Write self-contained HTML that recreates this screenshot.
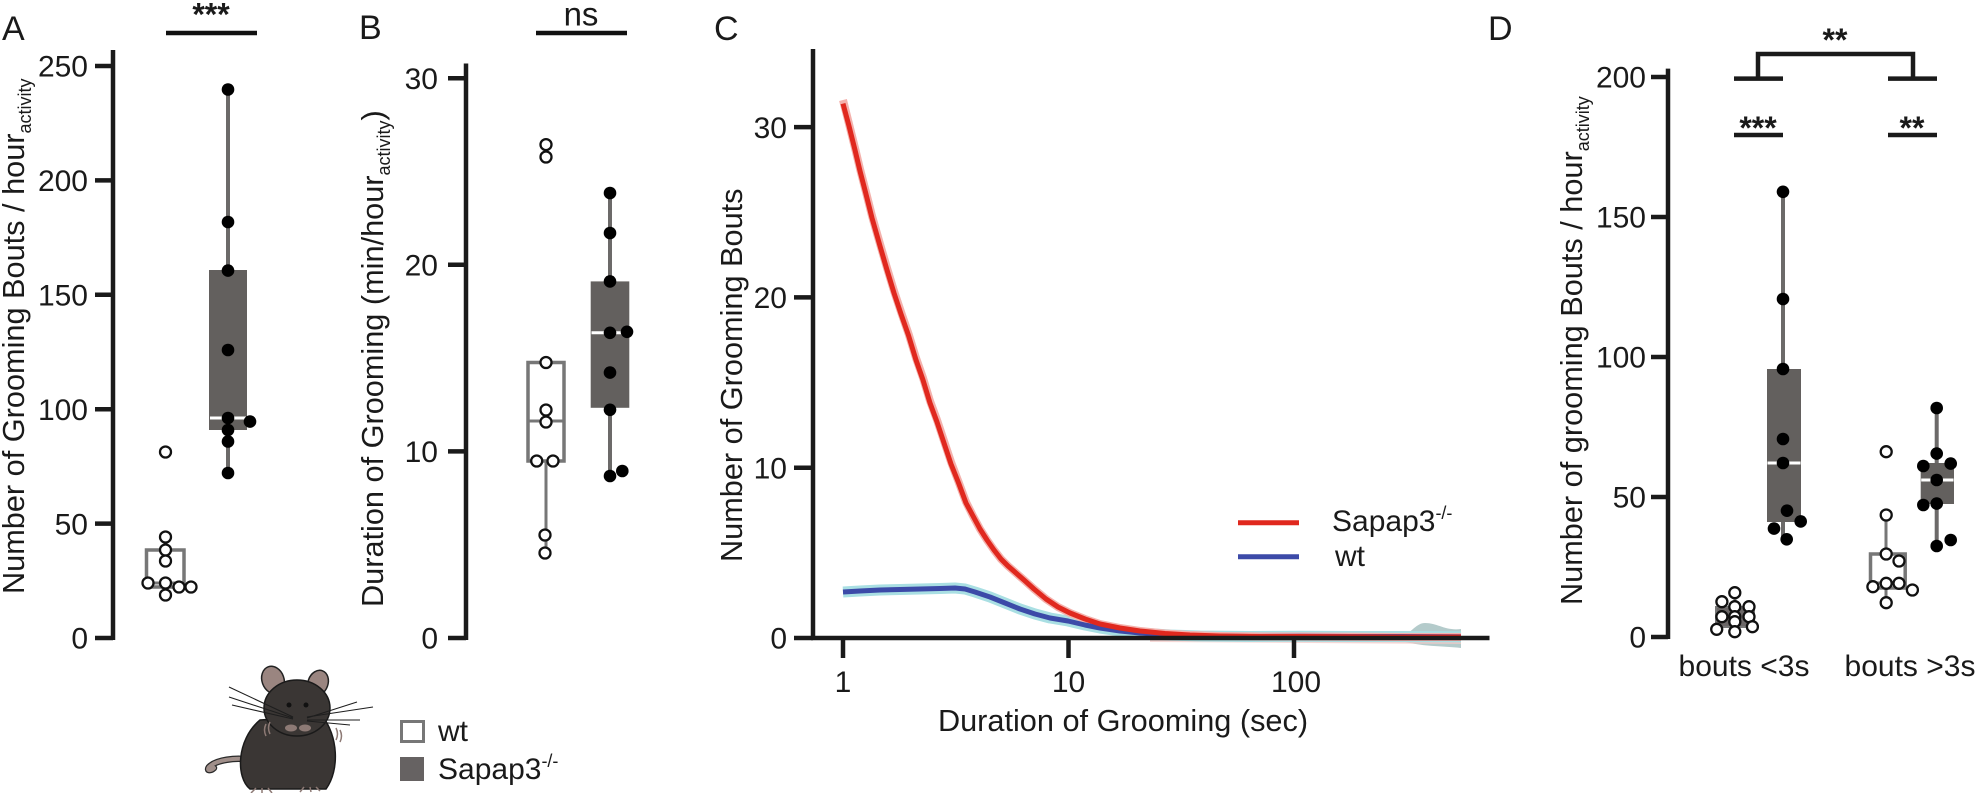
<!DOCTYPE html>
<html><head><meta charset="utf-8"><style>
html,body{margin:0;padding:0;background:#fff;}
svg{display:block;}
text{font-family:"Liberation Sans",Arial,sans-serif;fill:#1a1a1a;}
</style></head><body>
<svg width="1975" height="793" viewBox="0 0 1975 793" xmlns="http://www.w3.org/2000/svg">
<rect width="1975" height="793" fill="#fff"/>

<!-- ================= PANEL A ================= -->
<text x="2" y="40" font-size="34">A</text>
<line x1="166" y1="33" x2="257" y2="33" stroke="#111" stroke-width="4.5"/>
<text x="211" y="25.5" font-size="32" font-weight="bold" text-anchor="middle">***</text>
<g stroke="#1a1a1a" stroke-width="4.5">
<line x1="113" y1="50" x2="113" y2="640"/>
<line x1="95" y1="638" x2="113" y2="638"/>
<line x1="95" y1="523.6" x2="113" y2="523.6"/>
<line x1="95" y1="409.2" x2="113" y2="409.2"/>
<line x1="95" y1="294.8" x2="113" y2="294.8"/>
<line x1="95" y1="180.4" x2="113" y2="180.4"/>
<line x1="95" y1="66" x2="113" y2="66"/>
</g>
<g font-size="30" text-anchor="end">
<text x="88" y="648.7">0</text>
<text x="88" y="534.3">50</text>
<text x="88" y="419.9">100</text>
<text x="88" y="305.5">150</text>
<text x="88" y="191.1">200</text>
<text x="88" y="76.7">250</text>
</g>
<text transform="translate(24,594) rotate(-90)" font-size="30.7">Number of Grooming Bouts / hour<tspan font-size="18" dy="7">activity</tspan></text>
<!-- wt box A -->
<line x1="165" y1="587" x2="165" y2="595" stroke="#777" stroke-width="3"/>
<rect x="146.5" y="550" width="37.5" height="37" fill="#fff" stroke="#777" stroke-width="3.5"/>
<line x1="146.5" y1="583" x2="184" y2="583" stroke="#777" stroke-width="3"/>
<g fill="#fff" stroke="#111" stroke-width="2.3">
<circle cx="165.5" cy="452" r="5.5"/>
<circle cx="165.5" cy="537" r="5.5"/>
<circle cx="165.5" cy="550" r="5.5"/>
<circle cx="165.5" cy="561" r="5.5"/>
<circle cx="165.5" cy="583" r="5.5"/>
<circle cx="165.5" cy="595" r="5.5"/>
<circle cx="148" cy="583" r="5.5"/>
<circle cx="179" cy="587" r="5.5"/>
<circle cx="191" cy="587" r="5.5"/>
</g>
<!-- Sapap box A -->
<line x1="228" y1="89.5" x2="228" y2="473" stroke="#6c6a69" stroke-width="4"/>
<rect x="209" y="270" width="38" height="160" fill="#63605e"/>
<line x1="210" y1="418" x2="246" y2="418" stroke="#fff" stroke-width="3"/>
<g fill="#000">
<circle cx="228" cy="89.5" r="6.3"/>
<circle cx="228" cy="222" r="6.3"/>
<circle cx="228" cy="270.6" r="6.3"/>
<circle cx="228" cy="350" r="6.3"/>
<circle cx="228" cy="418" r="6.3"/>
<circle cx="228" cy="430" r="6.3"/>
<circle cx="228" cy="441.5" r="6.3"/>
<circle cx="228" cy="473" r="6.3"/>
<circle cx="250" cy="421.6" r="6.3"/>
</g>

<!-- ================= PANEL B ================= -->
<text x="359" y="39" font-size="34">B</text>
<line x1="536" y1="33" x2="627" y2="33" stroke="#111" stroke-width="4.5"/>
<text x="581" y="25.5" font-size="33" text-anchor="middle">ns</text>
<g stroke="#1a1a1a" stroke-width="4.5">
<line x1="466" y1="63.5" x2="466" y2="640"/>
<line x1="448" y1="638" x2="466" y2="638"/>
<line x1="448" y1="451.4" x2="466" y2="451.4"/>
<line x1="448" y1="264.8" x2="466" y2="264.8"/>
<line x1="448" y1="78.2" x2="466" y2="78.2"/>
</g>
<g font-size="30" text-anchor="end">
<text x="438" y="648.7">0</text>
<text x="438" y="462.1">10</text>
<text x="438" y="275.5">20</text>
<text x="438" y="88.9">30</text>
</g>
<text transform="translate(383,607) rotate(-90)" font-size="30.7">Duration of Grooming (min/hour<tspan font-size="18" dy="7">activity</tspan><tspan dy="-7">)</tspan></text>
<!-- wt box B -->
<line x1="546" y1="461" x2="546" y2="553" stroke="#777" stroke-width="3"/>
<rect x="528" y="362.5" width="36" height="98.5" fill="#fff" stroke="#777" stroke-width="3.5"/>
<line x1="528" y1="421" x2="564" y2="421" stroke="#777" stroke-width="3"/>
<g fill="#fff" stroke="#111" stroke-width="2.3">
<circle cx="546" cy="144.6" r="5.5"/>
<circle cx="546" cy="157" r="5.5"/>
<circle cx="546" cy="362.5" r="5.5"/>
<circle cx="546" cy="410" r="5.5"/>
<circle cx="546" cy="422" r="5.5"/>
<circle cx="536.7" cy="461" r="5.5"/>
<circle cx="553" cy="461" r="5.5"/>
<circle cx="545" cy="535" r="5.5"/>
<circle cx="545" cy="553" r="5.5"/>
</g>
<!-- Sapap box B -->
<line x1="610" y1="193" x2="610" y2="476" stroke="#6c6a69" stroke-width="4"/>
<rect x="590.7" y="281.4" width="38.6" height="126.4" fill="#63605e"/>
<line x1="591.5" y1="332.8" x2="628.5" y2="332.8" stroke="#fff" stroke-width="3"/>
<g fill="#000">
<circle cx="610" cy="193" r="6.3"/>
<circle cx="610" cy="233" r="6.3"/>
<circle cx="610" cy="281.4" r="6.3"/>
<circle cx="610" cy="332.8" r="6.3"/>
<circle cx="627" cy="331.8" r="6.3"/>
<circle cx="610" cy="372.6" r="6.3"/>
<circle cx="610" cy="409.8" r="6.3"/>
<circle cx="610" cy="476" r="6.3"/>
<circle cx="622.3" cy="471" r="6.3"/>
</g>

<!-- ================= PANEL C ================= -->
<text x="714" y="40" font-size="34">C</text>
<!-- bands -->
<path d="M1150,633 L1461,632 L1461,643 L1150,641 Z" fill="#dde8e9"/>
<path d="M1398,637 C1410,636 1415,623 1425,623 C1438,623 1445,631 1461,629 L1461,648 C1445,646 1420,647 1398,640 Z" fill="#b4cbcb"/>
<path d="M1150,640 L1461,641 L1461,644 L1150,642 Z" fill="#f3c9c6" opacity="0.7"/>
<polyline fill="none" stroke="#a9dfe3" stroke-width="11" stroke-linejoin="round" stroke-linecap="butt" points="843,592 860,591 880,590 900,589.5 920,589 940,588.5 955,588 965,589 975,592 990,597 1005,603 1020,609 1035,614 1050,618 1068,621 1085,625 1100,628 1120,631 1140,633 1170,635 1200,636 1250,636.5 1300,636.2 1350,636.5 1400,636.5 1461,636.8"/>
<polyline fill="none" stroke="#f4b1ac" stroke-width="8" stroke-linejoin="round" points="843,100 849,124 855,148 860,169 865.7,191 872,216 880,244 887,268 894,291 901,312 908.6,334 916,358 923,378 930,401 937,420 944,441 951,462 958.6,482 966,502 973,516 980,529 987,540 994,550 1001,559 1008,566 1016,573 1024,580 1034,589 1046,599 1058,607 1070,613 1085,619 1100,624 1120,628 1140,631 1165,633.5 1190,635 1220,636 1260,636.5 1300,636.5 1350,636.8 1400,637 1461,637"/>
<polyline fill="none" stroke="#3c4aa8" stroke-width="5" stroke-linejoin="round" points="843,592 860,591 880,590 900,589.5 920,589 940,588.5 955,588 965,589 975,592 990,597 1005,603 1020,609 1035,614 1050,618 1068,621 1085,625 1100,628 1120,631 1140,633 1170,635 1200,636 1250,636.5 1300,636.2 1350,636.5 1400,636.5 1461,636.8"/>
<polyline fill="none" stroke="#e0281e" stroke-width="5" stroke-linejoin="round" points="843,103.6 849,126 855,150 860,171 865.7,193 872,218 880,246 887,270 894,293 901,314 908.6,335.7 916,360 923,380 930,403 937,422 944,443 951,464 958.6,483 966,503 973,516 980,529 987,540 994,550 1001,559 1008,566 1016,573 1024,580 1034,589 1046,599 1058,607 1070,613 1085,619 1100,624 1120,628 1140,631 1165,633.5 1190,635 1220,636 1260,636.5 1300,636.5 1350,636.8 1400,637 1461,637"/>
<g stroke="#1a1a1a" stroke-width="4.5">
<line x1="813" y1="49" x2="813" y2="640"/>
<line x1="811" y1="638" x2="1489.5" y2="638"/>
<line x1="794" y1="638" x2="813" y2="638"/>
<line x1="794" y1="467.7" x2="813" y2="467.7"/>
<line x1="794" y1="297.4" x2="813" y2="297.4"/>
<line x1="794" y1="127.1" x2="813" y2="127.1"/>
<line x1="843" y1="638" x2="843" y2="658"/>
<line x1="1068.5" y1="638" x2="1068.5" y2="658"/>
<line x1="1294" y1="638" x2="1294" y2="658"/>
</g>
<g font-size="30" text-anchor="end">
<text x="787" y="648.7">0</text>
<text x="787" y="478.4">10</text>
<text x="787" y="308.1">20</text>
<text x="787" y="137.8">30</text>
</g>
<g font-size="30" text-anchor="middle">
<text x="843" y="692">1</text>
<text x="1068.5" y="692">10</text>
<text x="1296" y="692">100</text>
</g>
<text x="1123" y="731" font-size="30.7" text-anchor="middle">Duration of Grooming (sec)</text>
<text transform="translate(742,562) rotate(-90)" font-size="30.7">Number of Grooming Bouts</text>
<!-- legend C -->
<line x1="1238" y1="522.7" x2="1299" y2="522.7" stroke="#e0281e" stroke-width="5"/>
<line x1="1238" y1="556.7" x2="1299" y2="556.7" stroke="#3c4aa8" stroke-width="5"/>
<text x="1332" y="531" font-size="30">Sapap3<tspan font-size="18" dy="-12">-/-</tspan></text>
<text x="1335" y="566" font-size="30">wt</text>

<!-- ================= PANEL D ================= -->
<text x="1488" y="40" font-size="34">D</text>
<g stroke="#1a1a1a" stroke-width="4.5" fill="none">
<path d="M1734,78.6 H1783 M1758,78.6 V54 H1913 V78.6 M1888,78.6 H1937"/>
<path d="M1734,135 H1783 M1888,135 H1937"/>
<line x1="1668" y1="68.6" x2="1668" y2="639"/>
<line x1="1651" y1="637" x2="1668" y2="637"/>
<line x1="1651" y1="497" x2="1668" y2="497"/>
<line x1="1651" y1="357" x2="1668" y2="357"/>
<line x1="1651" y1="217" x2="1668" y2="217"/>
<line x1="1651" y1="77" x2="1668" y2="77"/>
</g>
<text x="1835" y="51" font-size="32" font-weight="bold" text-anchor="middle">**</text>
<text x="1758" y="139" font-size="32" font-weight="bold" text-anchor="middle">***</text>
<text x="1912" y="139" font-size="32" font-weight="bold" text-anchor="middle">**</text>
<g font-size="30" text-anchor="end">
<text x="1646" y="647.7">0</text>
<text x="1646" y="507.7">50</text>
<text x="1646" y="367.7">100</text>
<text x="1646" y="227.7">150</text>
<text x="1646" y="87.7">200</text>
</g>
<text transform="translate(1582,605) rotate(-90)" font-size="30.7">Number of grooming Bouts / hour<tspan font-size="18" dy="7">activity</tspan></text>
<!-- Sapap <3s -->
<line x1="1783" y1="191.8" x2="1783" y2="539" stroke="#6c6a69" stroke-width="4"/>
<rect x="1767" y="369" width="34" height="153" fill="#63605e"/>
<line x1="1767.5" y1="463" x2="1800.5" y2="463" stroke="#fff" stroke-width="3"/>
<g fill="#000">
<circle cx="1783" cy="191.8" r="6.3"/>
<circle cx="1783" cy="299" r="6.3"/>
<circle cx="1783" cy="369" r="6.3"/>
<circle cx="1783" cy="439" r="6.3"/>
<circle cx="1783" cy="463" r="6.3"/>
<circle cx="1787" cy="510.7" r="6.3"/>
<circle cx="1800.7" cy="521.4" r="6.3"/>
<circle cx="1774" cy="528.6" r="6.3"/>
<circle cx="1786.7" cy="539.3" r="6.3"/>
</g>
<!-- wt <3s -->
<line x1="1735" y1="592.7" x2="1735" y2="631.7" stroke="#777" stroke-width="3"/>
<rect x="1716" y="607" width="38" height="20" fill="#6b6767" stroke="#777" stroke-width="2"/>
<g fill="#fff" stroke="#111" stroke-width="2.3">
<circle cx="1734.8" cy="592.7" r="5.5"/>
<circle cx="1721.9" cy="601.7" r="5.5"/>
<circle cx="1734.8" cy="606.7" r="5.5"/>
<circle cx="1749" cy="606.7" r="5.5"/>
<circle cx="1721.9" cy="616.7" r="5.5"/>
<circle cx="1734.8" cy="616.7" r="5.5"/>
<circle cx="1749" cy="616.7" r="5.5"/>
<circle cx="1734.8" cy="621.7" r="5.5"/>
<circle cx="1716.7" cy="629.3" r="5.5"/>
<circle cx="1734.8" cy="631.7" r="5.5"/>
<circle cx="1752.4" cy="626.7" r="5.5"/>
</g>
<!-- wt >3s -->
<line x1="1886" y1="515" x2="1886" y2="603" stroke="#777" stroke-width="3"/>
<rect x="1870.5" y="554" width="34.7" height="34" fill="#fff" stroke="#777" stroke-width="3.5"/>
<line x1="1870.5" y1="583" x2="1905.2" y2="583" stroke="#777" stroke-width="3"/>
<g fill="#fff" stroke="#111" stroke-width="2.3">
<circle cx="1886.2" cy="451.7" r="5.5"/>
<circle cx="1886.2" cy="515" r="5.5"/>
<circle cx="1886.2" cy="554" r="5.5"/>
<circle cx="1899" cy="561" r="5.5"/>
<circle cx="1872.9" cy="586.7" r="5.5"/>
<circle cx="1886.2" cy="583.3" r="5.5"/>
<circle cx="1899" cy="583.3" r="5.5"/>
<circle cx="1912.4" cy="590" r="5.5"/>
<circle cx="1886.2" cy="602.7" r="5.5"/>
</g>
<!-- Sapap >3s -->
<line x1="1936.7" y1="408" x2="1936.7" y2="546" stroke="#6c6a69" stroke-width="4"/>
<rect x="1920.7" y="463" width="33.3" height="41" fill="#63605e"/>
<line x1="1921.2" y1="480" x2="1953.5" y2="480" stroke="#fff" stroke-width="3"/>
<g fill="#000">
<circle cx="1936.7" cy="408" r="6.3"/>
<circle cx="1936.7" cy="453.6" r="6.3"/>
<circle cx="1923.3" cy="466" r="6.3"/>
<circle cx="1950.7" cy="463.6" r="6.3"/>
<circle cx="1936.7" cy="480" r="6.3"/>
<circle cx="1923.3" cy="505" r="6.3"/>
<circle cx="1936.7" cy="503.6" r="6.3"/>
<circle cx="1936.7" cy="546" r="6.3"/>
<circle cx="1950.7" cy="540" r="6.3"/>
</g>
<text x="1744" y="676" font-size="30" text-anchor="middle">bouts &lt;3s</text>
<text x="1910" y="676" font-size="30" text-anchor="middle">bouts &gt;3s</text>

<!-- ================= MOUSE ================= -->
<g>
<path d="M252,760 C235,757 216,760 209,767 C206,771 211,771 214,768" fill="none" stroke="#2a2a2a" stroke-width="6.5" stroke-linecap="round"/>
<path d="M252,760 C235,757 216,760 209,767 C206,771 211,771 214,768" fill="none" stroke="#a08f8a" stroke-width="4" stroke-linecap="round"/>
<ellipse cx="273" cy="680" rx="11" ry="14" transform="rotate(-20 273 680)" fill="#9a8580" stroke="#222" stroke-width="1.5"/>
<ellipse cx="318" cy="683" rx="10" ry="13" transform="rotate(20 318 683)" fill="#9a8580" stroke="#222" stroke-width="1.5"/>
<path d="M260,720 C236,740 236,778 250,789 L326,789 C340,770 338,735 322,716 Z" fill="#3a3634" stroke="#1a1a1a" stroke-width="1.5"/>
<ellipse cx="297" cy="708" rx="33" ry="28" fill="#3a3634" stroke="#1a1a1a" stroke-width="1.5"/>
<circle cx="289" cy="705" r="2.5" fill="#111"/>
<circle cx="306" cy="705" r="2.5" fill="#111"/>
<ellipse cx="291" cy="728" rx="6" ry="3.5" fill="#8d7a75"/>
<ellipse cx="305" cy="728" rx="6" ry="3.5" fill="#8d7a75"/>
<g stroke="#1e1e1e" stroke-width="1.1" fill="none">
<path d="M293,717 L229,687"/><path d="M293,718 L229,697"/><path d="M293,719 L232,705"/>
<path d="M307,717 L373,707"/><path d="M307,718 L357,702"/><path d="M307,720 L360,720"/><path d="M307,721 L350,725"/>
</g>
<g stroke="#8d7a75" stroke-width="1.5" fill="none">
<path d="M256,788 L251,793 M262,788 L262,793 M268,788 L272,793"/>
<path d="M304,787 L300,792 M310,787 L311,792 M316,787 L320,791"/>
<path d="M266,724 q-3,6 0,12 M270,722 q-3,6 0,12"/>
<path d="M336,728 q3,6 0,12 M340,730 q3,6 0,12"/>
</g>
</g>

<!-- legend bottom -->
<rect x="401.5" y="721.5" width="22" height="20" fill="#fff" stroke="#777" stroke-width="3"/>
<text x="438" y="741" font-size="30">wt</text>
<rect x="400" y="757" width="24" height="24" fill="#666262"/>
<text x="438" y="779" font-size="30">Sapap3<tspan font-size="18" dy="-12">-/-</tspan></text>
</svg>
</body></html>
